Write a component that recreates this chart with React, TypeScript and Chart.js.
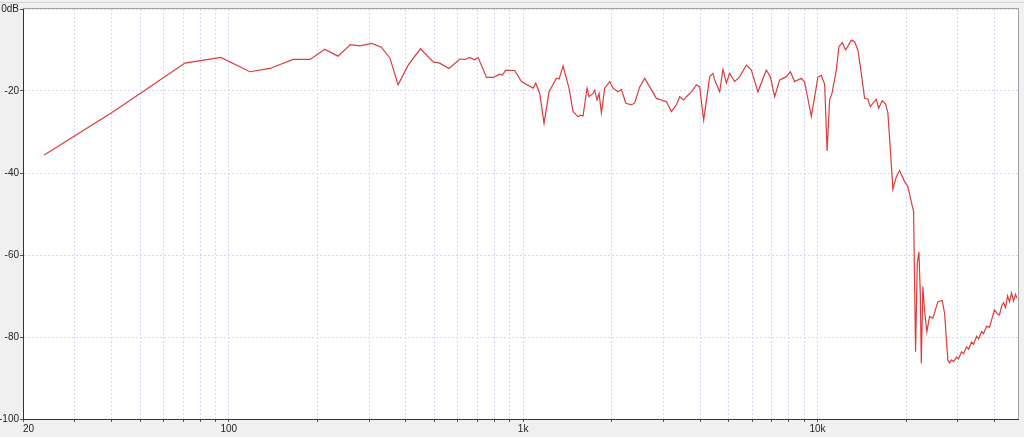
import React, { useEffect, useRef } from "react";
import { Chart, registerables } from "chart.js";

Chart.register(...registerables);

// Frequency (Hz) of each point of the response curve
const freqHz: number[] = [
  23.6, 40, 50, 71, 94, 118, 138, 165.5, 189, 212, 235, 259, 279, 306, 330, 353, 376, 407, 448, 495,
  521, 560, 610, 634, 659, 685, 703, 751, 791, 833, 851, 873, 913, 937, 987, 1081, 1104, 1139, 1178, 1225,
  1298, 1325, 1367, 1432, 1478, 1537, 1566, 1598, 1649, 1675, 1728, 1751, 1783, 1811, 1845, 1893, 1969, 2020, 2101, 2158,
  2232, 2333, 2394, 2490, 2589, 2692, 2837, 3068, 3190, 3317, 3404, 3512, 3587, 3730, 3878, 3980, 4106, 4304, 4416, 4475,
  4654, 4775, 4903, 5031, 5232, 5441, 5733, 5962, 6277, 6704, 6918, 7154, 7440, 7839, 8088, 8365, 8815, 9045, 9531, 10035,
  10306, 10576, 10784, 10999, 11197, 11590, 11827, 12147, 12465, 13030, 13370, 13720, 14090, 14460, 14840, 15120, 15840, 16130, 16600, 17040,
  17350, 17810, 18040, 18530, 19010, 19770, 20280, 20830, 21210, 21380, 21540, 21830, 22110, 22350, 22530, 22810, 23110, 23530, 24040, 24660,
  25650, 26540, 27030, 27730, 28110, 28550, 29000, 29690, 30150, 30870, 31360, 32100, 32610, 33380, 33900, 34710, 35260, 36090, 36660, 37530,
  38410, 39320, 39940, 40890, 41540, 42210, 42880, 43560, 44240, 44920, 45630, 46340, 47080, 47560,
];

// Level (dB) at each frequency above
const levelDb: number[] = [
  -35.6, -25.3, -20.6, -13.2, -11.8, -15.3, -14.5, -12.3, -12.3, -9.8, -11.5, -8.7, -9.0, -8.4, -9.3, -12.0, -18.5, -13.7, -9.7, -12.9,
  -13.2, -14.5, -12.2, -12.3, -11.8, -12.4, -11.8, -16.7, -16.7, -15.9, -16.1, -14.9, -15.0, -15.0, -17.7, -19.3, -18.1, -20.6, -27.9, -20.2,
  -16.9, -17.1, -13.9, -19.3, -25.0, -26.3, -25.9, -26.1, -19.3, -21.4, -20.6, -19.8, -22.2, -20.6, -25.3, -19.3, -17.7, -19.3, -20.2, -19.6,
  -23.0, -23.4, -22.9, -19.0, -16.9, -19.0, -21.8, -22.6, -25.0, -23.4, -21.4, -22.2, -21.4, -20.2, -18.5, -19.0, -27.1, -16.5, -15.7, -17.3,
  -20.2, -14.7, -18.0, -15.7, -17.7, -16.5, -13.7, -14.9, -20.2, -14.9, -16.5, -21.4, -17.3, -16.5, -15.3, -17.7, -16.9, -17.8, -26.2, -16.6,
  -16.2, -18.3, -34.6, -22.2, -20.6, -14.9, -9.2, -8.2, -10.0, -7.6, -8.0, -10.0, -15.7, -21.8, -22.0, -23.8, -22.0, -24.2, -22.4, -23.2,
  -25.4, -37.6, -44.0, -40.9, -39.4, -42.1, -43.3, -47.0, -49.4, -66.9, -83.6, -62.0, -59.2, -69.3, -86.4, -67.7, -73.4, -78.7, -75.0, -75.4,
  -71.4, -71.1, -74.2, -85.6, -86.3, -85.6, -86.0, -84.9, -85.3, -83.6, -84.1, -82.4, -83.0, -81.2, -81.8, -79.8, -80.5, -78.7, -79.2, -77.4,
  -77.6, -75.1, -73.4, -74.4, -74.6, -72.5, -71.6, -72.8, -70.0, -71.4, -69.3, -71.2, -69.6, -70.5,
];

// Axis ticks
const xTickValues: number[] = [
  20, 30, 40, 50, 60, 70, 80, 90, 100, 200, 300, 400, 500, 600, 700, 800, 900,
  1000, 2000, 3000, 4000, 5000, 6000, 7000, 8000, 9000, 10000, 20000, 30000, 40000, 48000,
];
const xTickLabels: Record<number, string> = { 20: "20", 100: "100", 1000: "1k", 10000: "10k" };
const yTickValues: number[] = [-100, -80, -60, -40, -20, 0];
const yTickLabels: Record<number, string> = { 0: "0dB", [-20]: "-20", [-40]: "-40", [-60]: "-60", [-80]: "-80", [-100]: "-100" };

const GRID = "#d4d4fc";
const FONT = { family: "'Liberation Sans', Arial, sans-serif", size: 10 };

export default function App() {
  const ref = useRef<HTMLCanvasElement | null>(null);

  useEffect(() => {
    if (!ref.current) return;
    const framePlugin = {
      id: "frame",
      beforeDraw(chart: any) {
        const { ctx, chartArea: a } = chart;
        ctx.save();
        ctx.fillStyle = "#ffffff";
        ctx.fillRect(a.left, a.top, a.right - a.left, a.bottom - a.top);
        ctx.restore();
      },
      afterDraw(chart: any) {
        const { ctx, chartArea: a } = chart;
        ctx.save();
        ctx.strokeStyle = "#a0a0a0";
        ctx.lineWidth = 1;
        ctx.beginPath();
        ctx.moveTo(a.left, a.top - 0.5);
        ctx.lineTo(a.right + 0.5, a.top - 0.5);
        ctx.lineTo(a.right + 0.5, a.bottom);
        ctx.stroke();
        ctx.strokeStyle = "#d4d4d4";
        ctx.beginPath();
        ctx.moveTo(0, 2.5);
        ctx.lineTo(chart.width, 2.5);
        ctx.stroke();
        ctx.restore();
      },
    };

    const chart = new Chart(ref.current, {
      type: "line",
      data: {
        datasets: [
          {
            data: freqHz.map((f, i) => ({ x: f, y: levelDb[i] })),
            borderColor: "#dc3c3c",
            borderWidth: 1.2,
            pointRadius: 0,
            tension: 0,
            fill: false,
          },
        ],
      },
      plugins: [framePlugin],
      options: {
        animation: false,
        responsive: false,
        devicePixelRatio: 1,
        layout: { padding: { top: 9, right: 6, left: 0, bottom: 0 } },
        plugins: { legend: { display: false }, tooltip: { enabled: false } },
        scales: {
          x: {
            type: "logarithmic",
            min: 20,
            max: 48000,
            afterBuildTicks: (scale: any) => {
              scale.ticks = xTickValues.map((v) => ({ value: v }));
            },
            afterFit: (scale: any) => {
              scale.height = 18;
            },
            ticks: {
              autoSkip: false,
              maxRotation: 0,
              align: "inner",
              padding: 1,
              color: "#222",
              font: FONT,
              callback: (v: any) => xTickLabels[Number(v)] ?? "",
            },
            grid: {
              color: (c: any) => (c.tick && c.tick.value >= 48000 ? "rgba(0,0,0,0)" : GRID),
              tickColor: (c: any) => (c.tick && c.tick.value >= 48000 ? "rgba(0,0,0,0)" : "#555"),
              tickLength: 3,
              lineWidth: 1,
            },
            border: { display: true, color: "#333", width: 1, dash: [2, 2] },
          },
          y: {
            type: "linear",
            min: -100,
            max: 0,
            afterBuildTicks: (scale: any) => {
              scale.ticks = yTickValues.map((v) => ({ value: v }));
            },
            afterFit: (scale: any) => {
              scale.width = 23;
            },
            ticks: {
              padding: 1,
              color: "#222",
              font: FONT,
              callback: (v: any) => yTickLabels[Number(v)] ?? "",
            },
            grid: {
              color: GRID,
              tickColor: "#555",
              tickLength: 3,
              lineWidth: 1,
            },
            border: { display: true, color: "#333", width: 1, dash: [2, 2] },
          },
        },
      } as any,
    });
    return () => chart.destroy();
  }, []);

  return (
    <div style={{ position: "fixed", left: 0, top: 0, width: 1024, height: 437, background: "#f0f0f0" }}>
      <canvas ref={ref} width={1024} height={437} style={{ display: "block" }} />
    </div>
  );
}
